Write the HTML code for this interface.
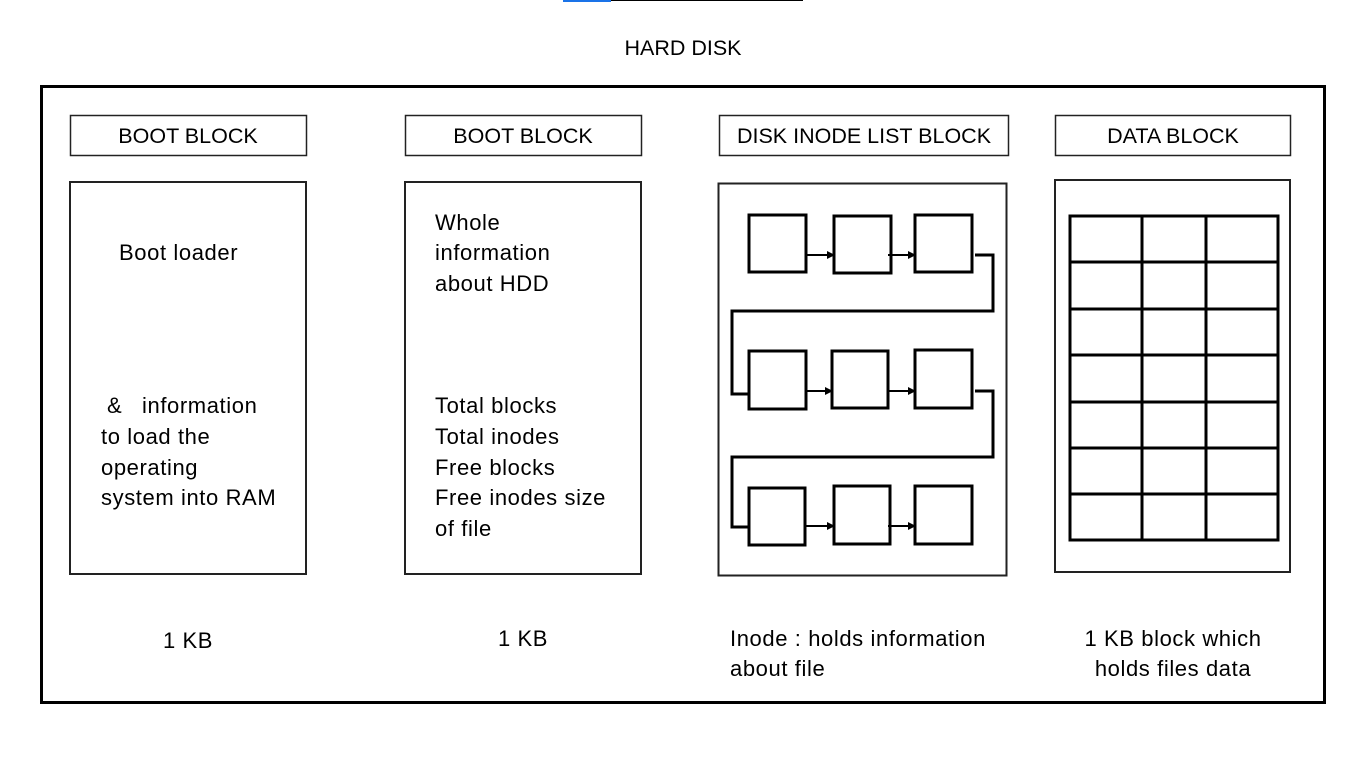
<!DOCTYPE html>
<html><head><meta charset="utf-8"><style>
html,body{margin:0;padding:0;background:#fff;}
svg{display:block;font-family:"Liberation Sans",sans-serif;}
text{font-size:22px;fill:#000;letter-spacing:0.6px;}
text.cap{letter-spacing:0;font-size:21.5px;}
</style></head><body>
<svg width="1366" height="768" viewBox="0 0 1366 768">
<rect x="563" y="0" width="48" height="2" fill="#1a73e8"/>
<rect x="611" y="0" width="192" height="1" fill="#000"/>
<text class="cap" x="683" y="55" text-anchor="middle">HARD DISK</text>
<rect x="41.5" y="86.5" width="1283" height="616" fill="none" stroke="#000" stroke-width="3"/>
<g fill="none" stroke="#222" stroke-width="1.5">
<rect x="70.5" y="115.5" width="236" height="40"/>
<rect x="405.5" y="115.5" width="236" height="40"/>
<rect x="719.5" y="115.5" width="289" height="40"/>
<rect x="1055.5" y="115.5" width="235" height="40"/>
<rect x="70" y="182" width="236" height="392" stroke-width="2"/>
<rect x="405" y="182" width="236" height="392" stroke-width="2"/>
<rect x="718.5" y="183.5" width="288" height="392" stroke-width="2"/>
<rect x="1055" y="180" width="235" height="392" stroke-width="2"/>
</g>
<text class="cap" x="188" y="143" text-anchor="middle">BOOT BLOCK</text>
<text class="cap" x="523" y="143" text-anchor="middle">BOOT BLOCK</text>
<text class="cap" x="864" y="143" text-anchor="middle">DISK INODE LIST BLOCK</text>
<text class="cap" x="1173" y="143" text-anchor="middle">DATA BLOCK</text>
<g>
<text x="119" y="260">Boot loader</text>
<text x="107" y="413">&amp;</text>
<text x="142" y="413">information</text>
<text x="101" y="444">to load the</text>
<text x="101" y="475">operating</text>
<text x="101" y="505">system into RAM</text>
</g>
<g>
<text x="435" y="230">Whole</text>
<text x="435" y="260">information</text>
<text x="435" y="291">about HDD</text>
<text x="435" y="413">Total blocks</text>
<text x="435" y="444">Total inodes</text>
<text x="435" y="475">Free blocks</text>
<text x="435" y="505">Free inodes size</text>
<text x="435" y="536">of file</text>
</g>
<text x="188" y="648" text-anchor="middle">1 KB</text>
<text x="523" y="646" text-anchor="middle">1 KB</text>
<text x="730" y="646">Inode : holds information</text>
<text x="730" y="676">about file</text>
<text x="1173" y="646" text-anchor="middle">1 KB block which</text>
<text x="1173" y="676" text-anchor="middle">holds files data</text>
<defs><marker id="ah" markerWidth="8" markerHeight="8" refX="7" refY="4" orient="auto" markerUnits="userSpaceOnUse"><path d="M0,0 L8,4 L0,8 z" fill="#000"/></marker></defs>
<g fill="none" stroke="#000" stroke-width="3">
<rect x="749" y="215" width="57" height="57"/><rect x="834" y="216" width="57" height="57"/><rect x="915" y="215" width="57" height="57"/>
<rect x="749" y="351" width="57" height="58"/><rect x="832" y="351" width="56" height="57"/><rect x="915" y="350" width="57" height="58"/>
<rect x="749" y="488" width="56" height="57"/><rect x="834" y="486" width="56" height="58"/><rect x="915" y="486" width="57" height="58"/>
<polyline points="975,255 993,255 993,311 732,311 732,394 749,394"/>
<polyline points="975,391 993,391 993,457 732,457 732,527 749,527"/>
</g>
<g stroke="#000" stroke-width="2" marker-end="url(#ah)">
<line x1="806" y1="255" x2="834" y2="255"/><line x1="888" y1="255" x2="915" y2="255"/>
<line x1="806" y1="391" x2="832" y2="391"/><line x1="888" y1="391" x2="915" y2="391"/>
<line x1="805" y1="526" x2="834" y2="526"/><line x1="888" y1="526" x2="915" y2="526"/>
</g>
<g stroke="#000" stroke-width="3" fill="none">
<rect x="1070" y="216" width="208" height="324"/>
<line x1="1142" y1="216" x2="1142" y2="540"/><line x1="1206" y1="216" x2="1206" y2="540"/>
<line x1="1070" y1="262" x2="1278" y2="262"/><line x1="1070" y1="309" x2="1278" y2="309"/>
<line x1="1070" y1="355" x2="1278" y2="355"/><line x1="1070" y1="402" x2="1278" y2="402"/>
<line x1="1070" y1="448" x2="1278" y2="448"/><line x1="1070" y1="494" x2="1278" y2="494"/>
</g>
</svg>
</body></html>
